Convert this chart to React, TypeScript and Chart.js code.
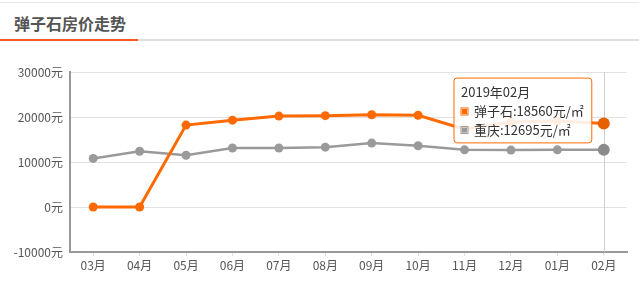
import React, { useEffect, useRef } from "react";
import { Chart, registerables, Tooltip } from "chart.js";

Chart.register(...registerables);

const categories = ["03月", "04月", "05月", "06月", "07月", "08月", "09月", "10月", "11月", "12月", "01月", "02月"];
const periods = ["2018年03月", "2018年04月", "2018年05月", "2018年06月", "2018年07月", "2018年08月", "2018年09月", "2018年10月", "2018年11月", "2018年12月", "2019年01月", "2019年02月"];
const danzishi = [0, 0, 18200, 19300, 20200, 20300, 20500, 20400, 17300, 18900, 19100, 18560];
const chongqing = [10800, 12400, 11500, 13100, 13100, 13300, 14200, 13600, 12700, 12650, 12700, 12695];
const yTicks = [-10000, 0, 10000, 20000, 30000];

const ORANGE = "#ff6a00";
const GRAY = "#9a9a9a";
const FONT = "'Noto Sans CJK SC', 'Noto Sans', sans-serif";

(Tooltip.positioners as any).besideFirst = function (elements: any[]) {
  if (!elements.length) return false;
  const el = elements[0].element;
  return { x: el.x - 12, y: el.y - 13 };
};

const crosshair = {
  id: "crosshair",
  beforeDatasetsDraw(chart: any) {
    const act = chart.getActiveElements();
    if (!act.length) return;
    const x = act[0].element.x;
    const { top, bottom } = chart.chartArea;
    const ctx = chart.ctx;
    ctx.save();
    ctx.strokeStyle = "#cfcfcf";
    ctx.lineWidth = 1;
    ctx.beginPath();
    ctx.moveTo(Math.round(x) + 0.5, top);
    ctx.lineTo(Math.round(x) + 0.5, bottom);
    ctx.stroke();
    ctx.restore();
  },
};

export default function App() {
  const ref = useRef<HTMLCanvasElement>(null);
  useEffect(() => {
    const canvas = ref.current!;
    const chart = new Chart(canvas, {
      type: "line",
      data: {
        labels: categories,
        datasets: [
          {
            label: "弹子石",
            data: danzishi,
            borderColor: ORANGE,
            backgroundColor: ORANGE,
            pointBackgroundColor: ORANGE,
            pointBorderColor: ORANGE,
            borderWidth: 3,
            pointRadius: 4.5,
            pointBorderWidth: 0,
            pointHoverRadius: 6,
            pointHoverBorderWidth: 0,
            tension: 0,
          },
          {
            label: "重庆",
            data: chongqing,
            borderColor: GRAY,
            backgroundColor: GRAY,
            pointBackgroundColor: GRAY,
            pointBorderColor: GRAY,
            borderWidth: 2.5,
            pointRadius: 4.5,
            pointBorderWidth: 0,
            pointHoverRadius: 6,
            pointHoverBorderWidth: 0,
            tension: 0,
          },
        ],
      },
      options: {
        responsive: false,
        animation: false,
        events: [],
        layout: { padding: { top: 72, right: 12, left: 0, bottom: 0 } },
        plugins: {
          legend: { display: false },
          title: { display: false },
          tooltip: {
            enabled: true,
            position: "besideFirst" as any,
            xAlign: "right",
            yAlign: "center",
            caretSize: 0,
            caretPadding: 0,
            backgroundColor: "rgba(255,255,255,0.88)",
            borderColor: ORANGE,
            borderWidth: 1,
            cornerRadius: 3,
            titleColor: "#333",
            bodyColor: "#333",
            titleFont: { family: FONT, size: 13, weight: "normal" },
            bodyFont: { family: FONT, size: 13 },
            titleMarginBottom: 4,
            bodySpacing: 3,
            padding: { top: 6, bottom: 5, left: 7, right: 8 },
            boxWidth: 7,
            boxHeight: 7,
            boxPadding: 4,
            multiKeyBackground: "rgba(0,0,0,0)",
            displayColors: true,
            callbacks: {
              title: (items: any[]) => periods[items[0].dataIndex],
              label: (item: any) => `${item.dataset.label}:${item.raw}元/㎡`,
              labelColor: (item: any) => ({
                borderColor: item.dataset.borderColor,
                backgroundColor: item.dataset.borderColor,
                borderWidth: 1,
              }),
            },
          },
        },
        scales: {
          x: {
            offset: true,
            border: { display: true, color: "#999", width: 2 },
            grid: { display: true, drawOnChartArea: false, drawTicks: true, tickLength: 4, color: "#e0e0e0" },
            ticks: { color: "#555", font: { family: FONT, size: 12 }, padding: 2, maxRotation: 0, autoSkip: false },
            afterFit: (s: any) => { s.height = 31; },
          },
          y: {
            min: yTicks[0],
            max: yTicks[yTicks.length - 1],
            afterBuildTicks: (s: any) => { s.ticks = yTicks.map((v) => ({ value: v })); },
            border: { display: true, color: "#999", width: 2 },
            grid: { color: "#e2e2e2", drawTicks: false, tickLength: 0 },
            ticks: { color: "#555", font: { family: FONT, size: 12 }, padding: 7, callback: (v: any) => `${v}元` },
            afterFit: (s: any) => { s.width = 70; },
          },
        },
      },
      plugins: [crosshair],
    });
    const last = categories.length - 1;
    const active = [
      { datasetIndex: 0, index: last },
      { datasetIndex: 1, index: last },
    ];
    chart.setActiveElements(active);
    chart.tooltip!.setActiveElements(active, { x: 0, y: 0 });
    chart.update();
    return () => chart.destroy();
  }, []);

  return (
    <div style={{ position: "fixed", left: 0, top: 0, width: 639, height: 283, background: "#fff", overflow: "hidden" }}>
      <div style={{ position: "absolute", left: 0, top: 2, width: 639, height: 1, background: "#e6e6e6" }} />
      <div
        style={{
          position: "absolute",
          left: 14,
          top: 12,
          fontFamily: FONT,
          fontWeight: 700,
          fontSize: 16,
          color: "#555",
          lineHeight: "22px",
          whiteSpace: "nowrap",
        }}
      >
        弹子石房价走势
      </div>
      <div style={{ position: "absolute", left: 0, top: 39, width: 639, height: 2, background: "#dddddd" }} />
      <div style={{ position: "absolute", left: 0, top: 39, width: 138, height: 2, background: "#ff5a1f" }} />
      <canvas ref={ref} width={639} height={283} style={{ position: "absolute", left: 0, top: 0 }} />
    </div>
  );
}
